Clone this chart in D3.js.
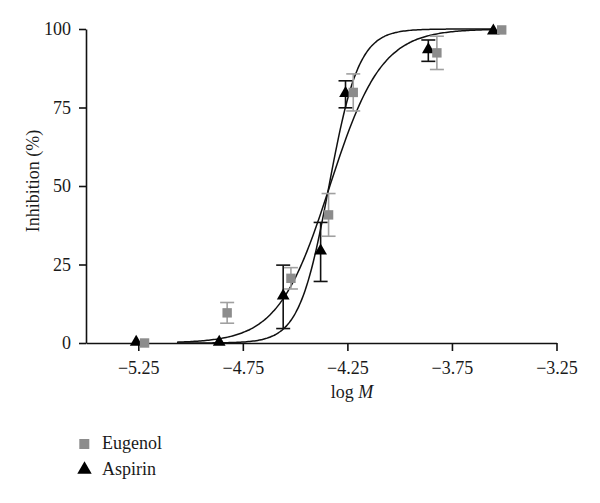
<!DOCTYPE html>
<html><head><meta charset="utf-8">
<script src="https://cdn.jsdelivr.net/npm/d3@7"></script>
<style>body{margin:0;background:#fff}svg{display:block}text{font-family:"Liberation Serif","DejaVu Serif",serif;fill:#1a1a1a}</style>
</head><body>
<svg id="c" width="600" height="503"></svg>
<script>
const xTicks = [-5.25, -4.75, -4.25, -3.75, -3.25];
const yTicks = [0, 25, 50, 75, 100];
const eugenolX = [-5.22, -4.825, -4.52, -4.34, -4.222, -3.822, -3.512];
const eugenolY = [0, 9.6, 20.6, 40.8, 79.8, 92.4, 99.7];
const eugenolErr = [0, 3.3, 3.4, 6.8, 5.9, 5.3, 0];
const aspirinX = [-5.26, -4.863, -4.557, -4.378, -4.259, -3.863, -3.552];
const aspirinY = [0, 0, 14.7, 29.0, 79.2, 93.1, 99.1];
const aspirinErr = [0, 0, 10.1, 9.4, 4.3, 3.4, 0];
// fitted Hill curve parameters [logEC50, slope]
const fitShallow = [-4.334, 3.52];
const fitSteep = [-4.338, 6.1];
const curveRange = [-5.065, -3.55];

const FS = 18;
const svg = d3.select("#c");
const x = d3.scaleLinear().domain([-5.5, -3.25]).range([86, 556.5]);
const y = d3.scaleLinear().domain([0, 100]).range([343, 29]);

const xAxis = svg.append("g").attr("transform", "translate(0,343)")
  .call(d3.axisBottom(x).tickValues(xTicks).tickFormat(d3.format(".2f")).tickSize(8).tickSizeOuter(0));
const yAxis = svg.append("g").attr("transform", "translate(86,0)")
  .call(d3.axisLeft(y).tickValues(yTicks).tickSize(7).tickSizeOuter(0));
[xAxis, yAxis].forEach(g => {
  g.attr("font-size", FS).attr("font-family", null);
  g.select(".domain").attr("stroke", "#111").attr("stroke-width", 1.6);
  g.selectAll(".tick line").attr("stroke", "#111").attr("stroke-width", 1.6);
  g.selectAll(".tick text").attr("fill", "#1a1a1a");
});
xAxis.selectAll(".tick text").attr("dy", null).attr("y", 31);
yAxis.selectAll(".tick text").attr("x", -15).attr("dy", "0.33em");

svg.append("text").attr("transform", "translate(39,181) rotate(-90)")
  .attr("text-anchor", "middle").attr("font-size", FS).text("Inhibition (%)");
const xl = svg.append("text").attr("x", 352).attr("y", 398).attr("text-anchor", "middle").attr("font-size", FS);
xl.append("tspan").text("log ");
xl.append("tspan").attr("font-style", "italic").text("M");

// curves
const hill = (p, v) => 100 / (1 + Math.pow(10, (p[0] - v) * p[1]));
const xs = d3.range(0, 201).map(i => curveRange[0] + (curveRange[1] - curveRange[0]) * i / 200);
const line = d3.line().x(d => x(d[0])).y(d => y(d[1])).curve(d3.curveBasis);
[fitShallow, fitSteep].forEach(p => {
  svg.append("path").attr("d", line(xs.map(v => [v, hill(p, v)])))
    .attr("fill", "none").attr("stroke", "#111").attr("stroke-width", 1.5);
});

function errBars(X, Y, E, color) {
  const g = svg.append("g").attr("stroke", color).attr("stroke-width", 1.6);
  X.forEach((v, i) => {
    if (!E[i]) return;
    const cx = x(v), t = y(Y[i] + E[i]), b = y(Y[i] - E[i]);
    g.append("line").attr("x1", cx).attr("x2", cx).attr("y1", t).attr("y2", b);
    g.append("line").attr("x1", cx - 7).attr("x2", cx + 7).attr("y1", t).attr("y2", t);
    g.append("line").attr("x1", cx - 7).attr("x2", cx + 7).attr("y1", b).attr("y2", b);
  });
}
errBars(aspirinX, aspirinY, aspirinErr, "#111");
const tri = d3.symbol().type(d3.symbolTriangle).size(70);
aspirinX.forEach((v, i) => {
  svg.append("path").attr("d", tri()).attr("transform", `translate(${x(v)},${y(aspirinY[i]) - 1})`).attr("fill", "#000");
});
errBars(eugenolX, eugenolY, eugenolErr, "#a0a0a0");
eugenolX.forEach((v, i) => {
  svg.append("rect").attr("x", x(v) - 4.7).attr("y", y(eugenolY[i]) - 4.7).attr("width", 9.4).attr("height", 9.4).attr("fill", "#8c8c8c");
});

// legend
svg.append("rect").attr("x", 79.3).attr("y", 439).attr("width", 10).attr("height", 10).attr("fill", "#8c8c8c");
svg.append("text").attr("x", 102).attr("y", 449).attr("font-size", FS).text("Eugenol");
svg.append("path").attr("d", d3.symbol().type(d3.symbolTriangle).size(90)()).attr("transform", "translate(84.5,469.5)").attr("fill", "#000");
svg.append("text").attr("x", 102).attr("y", 474.5).attr("font-size", FS).text("Aspirin");
</script>
</body></html>
